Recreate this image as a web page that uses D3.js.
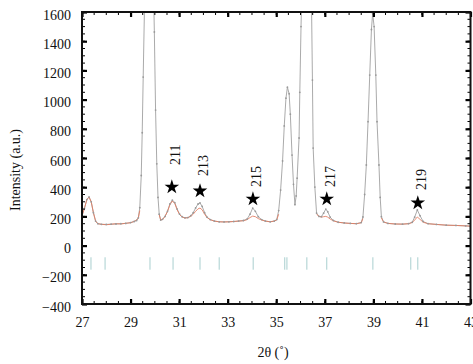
<!DOCTYPE html>
<html>
<head>
<meta charset="utf-8">
<script src="https://cdn.jsdelivr.net/npm/d3@7"></script>
<style>
  body { margin: 0; background: #fff; }
  text { font-family: "Liberation Serif", "Times New Roman", serif; fill: #111; }
  .axis text { font-size: 14px; }
  .label { font-size: 14px; }
</style>
</head>
<body>
<svg id="chart" width="473" height="364"></svg>
<script>
// 2theta grid of the pattern
const twoTheta = [
  27.00, 27.10, 27.20, 27.29, 27.38, 27.47, 27.56, 27.65, 27.80, 28.00,
  28.20, 28.40, 28.60, 28.80, 29.00, 29.15, 29.25, 29.32, 29.38, 29.44,
  29.48, 29.52, 29.57, 29.62, 29.70, 29.80, 29.88, 29.94, 29.98, 30.03,
  30.08, 30.13, 30.18, 30.24, 30.32, 30.42, 30.52, 30.62, 30.72, 30.82,
  30.92, 31.02, 31.12, 31.24, 31.36, 31.48, 31.58, 31.68, 31.78, 31.86,
  31.95, 32.05, 32.15, 32.28, 32.45, 32.65, 32.85, 33.05, 33.25, 33.45,
  33.65, 33.80, 33.92, 34.03, 34.14, 34.26, 34.40, 34.55, 34.75, 34.92,
  35.02, 35.10, 35.18, 35.26, 35.33, 35.40, 35.46, 35.53, 35.58, 35.65,
  35.71, 35.77, 35.82, 35.86, 35.94, 35.97, 36.02, 36.10, 36.20, 36.32,
  36.42, 36.49, 36.52, 36.59, 36.66, 36.76, 36.86, 36.95, 37.04, 37.12,
  37.22, 37.35, 37.55, 37.80, 38.05, 38.30, 38.50, 38.57, 38.64, 38.71,
  38.78, 38.85, 38.92, 38.97, 39.03, 39.10, 39.15, 39.23, 39.28, 39.33,
  39.42, 39.60, 39.90, 40.20, 40.45, 40.60, 40.70, 40.81, 40.92, 41.05,
  41.25, 41.60, 42.00, 42.40, 42.80, 43.00
];
// gray pattern (with point markers)
const grayI = [
  205, 255, 315, 333, 300, 225, 168, 150, 146, 145,
  147, 148, 150, 152, 158, 165, 172, 190, 260, 480,
  773, 1154, 1600, 2100, 2600, 2800, 2400, 1800, 1463, 928,
  560, 330, 215, 175, 180, 200, 235, 285, 312, 295,
  250, 215, 198, 190, 192, 205, 225, 258, 285, 292,
  268, 225, 195, 178, 168, 163, 162, 163, 165, 168,
  172, 182, 215, 257, 235, 198, 178, 168, 163, 168,
  178, 240, 380, 580, 820, 1010, 1085, 1040, 900, 620,
  420, 280, 340, 462, 737, 1050, 1500, 2100, 2500, 2500,
  2100, 1134, 668, 401, 223, 200, 198, 222, 250, 232,
  195, 172, 160, 155, 152, 150, 158, 196, 350, 552,
  849, 1168, 1480, 1590, 1500, 1168, 849, 552, 330, 198,
  162, 152, 148, 147, 150, 160, 195, 244, 205, 165,
  150, 145, 140, 138, 135, 133
];
// red pattern (not drawn through the strong peaks)
const redI = [
  205, 255, 315, 333, 300, 225, 168, 150, 146, 143,
  146, 150, 148, 153, 156, 166, 175, 190, 240, null,
  null, null, null, null, null, null, null, null, null, null,
  null, null, 212, 175, 180, 200, 233, 280, 305, 288,
  245, 212, 196, 189, 191, 200, 215, 235, 252, 257,
  245, 215, 192, 178, 168, 163, 162, 163, 165, 168,
  170, 178, 192, 202, 198, 185, 175, 168, 163, 168,
  176, 215, null, null, null, null, null, null, null, null,
  null, null, null, null, null, null, null, null, null, null,
  null, null, null, null, 215, 200, 195, 198, 200, 195,
  182, 170, 160, 155, 152, 150, 156, 185, null, null,
  null, null, null, null, null, null, null, null, null, 190,
  162, 152, 148, 147, 150, 158, 175, 196, 180, 160,
  150, 145, 140, 138, 135, 133
];
// reflection markers
const braggPos = [27.37, 27.95, 29.8, 30.75, 31.86, 32.65, 34.05, 35.35, 35.44, 36.26, 37.08, 38.98, 40.54, 40.83];
// starred reflections
const peakHkl = ["211", "213", "215", "217", "219"];
const peakPos = [30.70, 31.86, 34.04, 37.08, 40.83];
const starI = [408, 381, 326, 326, 299];
const labelI = [552, 476, 401, 401, 381];

const xTicks = [27, 29, 31, 33, 35, 37, 39, 41, 43];
const yTicks = [-400, -200, 0, 200, 400, 600, 800, 1000, 1200, 1400, 1600];

const mLeft = 82, mRight = 470.5, mTop = 12, mBottom = 304;
const svg = d3.select("#chart");
const xScale = d3.scaleLinear().domain([27, 43]).range([mLeft, mRight]);
const yScale = d3.scaleLinear().domain([-400, 1600]).range([mBottom, mTop]);

svg.append("defs").append("clipPath").attr("id", "plotclip")
  .append("rect").attr("x", mLeft).attr("y", mTop)
  .attr("width", mRight - mLeft).attr("height", mBottom - mTop);

const plot = svg.append("g").attr("clip-path", "url(#plotclip)");

// bragg ticks
plot.selectAll(".bragg").data(braggPos).enter().append("line")
  .attr("x1", d => xScale(d)).attr("x2", d => xScale(d))
  .attr("y1", yScale(-80)).attr("y2", yScale(-165))
  .attr("stroke", "#a9cfcf").attr("stroke-width", 1);

const pts = twoTheta.map((t, i) => ({t: t, g: grayI[i], r: redI[i]}));

plot.append("path").datum(pts)
  .attr("d", d3.line().x(d => xScale(d.t)).y(d => yScale(d.g)))
  .attr("fill", "none").attr("stroke", "#a0a0a0").attr("stroke-width", 0.9);

plot.append("path").datum(pts)
  .attr("d", d3.line().defined(d => d.r !== null).x(d => xScale(d.t)).y(d => yScale(d.r)))
  .attr("fill", "none").attr("stroke", "#e27a5e").attr("stroke-width", 1)
  .attr("stroke-opacity", 0.85);

plot.selectAll(".dot").data(pts).enter().append("circle")
  .attr("cx", d => xScale(d.t)).attr("cy", d => yScale(d.g))
  .attr("r", 0.9).attr("fill", "#999");

// stars and labels
peakPos.forEach(function (p, i) {
  svg.append("path")
    .attr("d", d3.symbol().type(d3.symbolStar).size(66)())
    .attr("transform", `translate(${xScale(p)},${yScale(starI[i]) + 1})`)
    .attr("fill", "#000");
  svg.append("text")
    .attr("class", "label")
    .attr("transform", `translate(${xScale(p) + 8},${yScale(labelI[i])}) rotate(-90)`)
    .attr("text-anchor", "start")
    .text(peakHkl[i]);
});

// minor ticks
const xMinor = d3.range(27, 43.01, 0.5);
const yMinor = d3.range(-400, 1600.1, 50);
const minor = svg.append("g").attr("stroke", "#000").attr("stroke-width", 1);
xMinor.forEach(v => {
  minor.append("line").attr("x1", xScale(v)).attr("x2", xScale(v)).attr("y1", mBottom).attr("y2", mBottom - 3);
  minor.append("line").attr("x1", xScale(v)).attr("x2", xScale(v)).attr("y1", mTop).attr("y2", mTop + 3);
});
yMinor.forEach(v => {
  minor.append("line").attr("y1", yScale(v)).attr("y2", yScale(v)).attr("x1", mLeft).attr("x2", mLeft + 3);
  minor.append("line").attr("y1", yScale(v)).attr("y2", yScale(v)).attr("x1", mRight).attr("x2", mRight - 3);
});

// axes
const gx = svg.append("g").attr("class", "axis")
  .attr("transform", `translate(0,${mBottom})`)
  .call(d3.axisBottom(xScale).tickValues(xTicks).tickSize(-5).tickPadding(13).tickFormat(d3.format("d")));
const gy = svg.append("g").attr("class", "axis")
  .attr("transform", `translate(${mLeft},0)`)
  .call(d3.axisLeft(yScale).tickValues(yTicks).tickSize(-5).tickPadding(11).tickFormat(d3.format("d")));
gy.selectAll("text").attr("dy", "0.5em");
const gt = svg.append("g").attr("class", "axis")
  .attr("transform", `translate(0,${mTop})`)
  .call(d3.axisTop(xScale).tickValues(xTicks).tickSize(-5).tickFormat(""));
const gr = svg.append("g").attr("class", "axis")
  .attr("transform", `translate(${mRight},0)`)
  .call(d3.axisRight(yScale).tickValues(yTicks).tickSize(-5).tickFormat(""));
[gx, gy, gt, gr].forEach(g => {
  g.select(".domain").remove();
  g.selectAll(".tick line").attr("stroke", "#000").attr("stroke-width", 2.2);
});

svg.append("rect").attr("x", mLeft).attr("y", mTop)
  .attr("width", mRight - mLeft).attr("height", mBottom - mTop)
  .attr("fill", "none").attr("stroke", "#111").attr("stroke-width", 2);

// axis titles
svg.append("text").attr("class", "label")
  .attr("transform", `translate(20,${(mTop + mBottom) / 2 + 12}) rotate(-90)`)
  .attr("text-anchor", "middle")
  .text("Intensity (a.u.)");
svg.append("text").attr("class", "label")
  .attr("x", 273).attr("y", 357)
  .attr("text-anchor", "middle")
  .text("2θ (˚)");
</script>
</body>
</html>
